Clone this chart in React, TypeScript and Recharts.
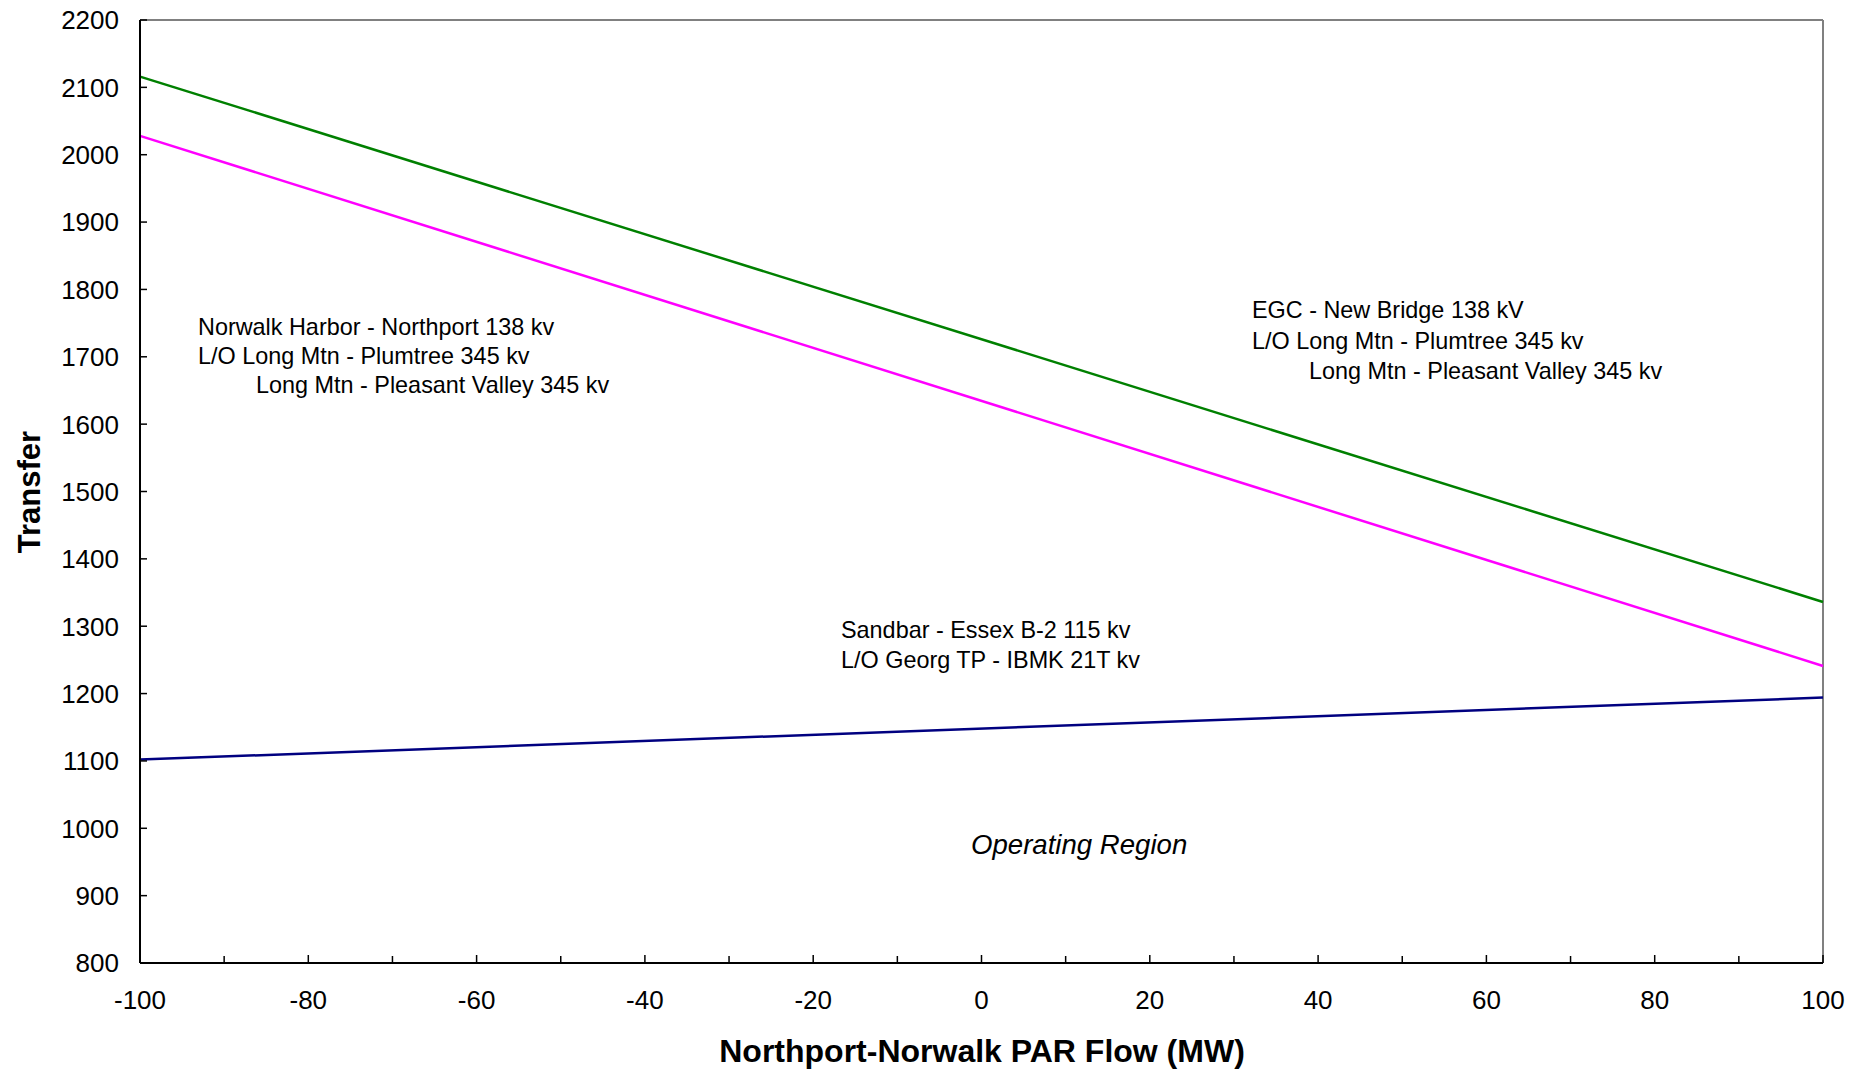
import { LineChart, Line, XAxis, YAxis, ReferenceLine } from 'recharts';

// PAR flow (MW) and the transfer limits read at each end of the range
const flows = [-100, 100];
const egcLimit = [2116, 1336];
const norwalkLimit = [2028, 1241];
const sandbarLimit = [1102, 1194];

const xTicks = [-100, -90, -80, -70, -60, -50, -40, -30, -20, -10, 0, 10, 20, 30, 40, 50, 60, 70, 80, 90, 100];
const yTicks = [800, 900, 1000, 1100, 1200, 1300, 1400, 1500, 1600, 1700, 1800, 1900, 2000, 2100, 2200];

const data = flows.map((f, i) => ({
    flow: f,
    egc: egcLimit[i],
    norwalk: norwalkLimit[i],
    sandbar: sandbarLimit[i],
}));

const FONT = '"Liberation Sans", Arial, sans-serif';
const X_MARGIN = 37;
const Y_MARGIN = 21;

const XTick = (props: any) => {
    const { x, y, payload } = props;
    const v = payload.value;
    const major = v % 20 === 0;
    const axisY = y - X_MARGIN;
    return (
        <g>
            <line x1={x} x2={x} y1={axisY} y2={axisY - (major ? 8 : 7)} stroke="#000" strokeWidth={1.5} />
            {major && (
                <text x={x} y={y} dy="0.36em" textAnchor="middle" fontFamily={FONT} fontSize={26} fill="#000">
                    {v}
                </text>
            )}
        </g>
    );
};

const YTick = (props: any) => {
    const { x, y, payload } = props;
    const axisX = x + Y_MARGIN;
    return (
        <g>
            <line x1={axisX} x2={axisX + 7} y1={y} y2={y} stroke="#000" strokeWidth={1.5} />
            <text x={x} y={y} dy="0.36em" textAnchor="end" fontFamily={FONT} fontSize={26} fill="#000">
                {payload.value}
            </text>
        </g>
    );
};

const noteStyle = { fontFamily: FONT, fontSize: 23.4, fill: '#000' };

export default function App() {
    return (
        <div style={{ position: 'relative', width: 1871, height: 1071, margin: '-8px 0 0 -8px' }}>
            <LineChart width={1871} height={1071} data={data} margin={{ top: 20, right: 48, bottom: 8, left: 0 }}>
                <XAxis
                    dataKey="flow"
                    type="number"
                    domain={[-100, 100]}
                    ticks={xTicks}
                    interval={0}
                    height={100}
                    tickSize={0}
                    tickMargin={X_MARGIN}
                    tickLine={false}
                    tick={<XTick />}
                    axisLine={{ stroke: '#000', strokeWidth: 2 }}
                />
                <YAxis
                    type="number"
                    domain={[800, 2200]}
                    ticks={yTicks}
                    interval={0}
                    width={140}
                    tickSize={0}
                    tickMargin={Y_MARGIN}
                    tickLine={false}
                    tick={<YTick />}
                    axisLine={{ stroke: '#000', strokeWidth: 2 }}
                />
                <ReferenceLine y={2200} stroke="#808080" strokeWidth={2} />
                <ReferenceLine x={100} stroke="#808080" strokeWidth={2} />
                <Line dataKey="egc" stroke="#008000" strokeWidth={2.5} dot={false} isAnimationActive={false} />
                <Line dataKey="norwalk" stroke="#FF00FF" strokeWidth={2.5} dot={false} isAnimationActive={false} />
                <Line dataKey="sandbar" stroke="#000080" strokeWidth={2.5} dot={false} isAnimationActive={false} />
            </LineChart>
            <svg
                width={1871}
                height={1071}
                style={{ position: 'absolute', left: 0, top: 0, pointerEvents: 'none' }}
            >
                <text style={noteStyle} x={198} y={335}>Norwalk Harbor - Northport 138 kv</text>
                <text style={noteStyle} x={198} y={364}>L/O Long Mtn - Plumtree 345 kv</text>
                <text style={noteStyle} x={256} y={393}>Long Mtn - Pleasant Valley 345 kv</text>

                <text style={noteStyle} x={1252} y={318}>EGC - New Bridge 138 kV</text>
                <text style={noteStyle} x={1252} y={349}>L/O Long Mtn - Plumtree 345 kv</text>
                <text style={noteStyle} x={1309} y={379}>Long Mtn - Pleasant Valley 345 kv</text>

                <text style={noteStyle} x={841} y={638}>Sandbar - Essex B-2 115 kv</text>
                <text style={noteStyle} x={841} y={668}>L/O Georg TP - IBMK 21T kv</text>

                <text x={971} y={854} fontFamily={FONT} fontSize={27.6} fontStyle="italic" fill="#000">
                    Operating Region
                </text>

                <text x={982} y={1062} textAnchor="middle" fontFamily={FONT} fontSize={32} fontWeight="bold" fill="#000">
                    Northport-Norwalk PAR Flow (MW)
                </text>
                <text
                    x={29}
                    y={492}
                    transform="rotate(-90 29 492)"
                    textAnchor="middle"
                    dy="0.36em"
                    fontFamily={FONT}
                    fontSize={31}
                    fontWeight="bold"
                    fill="#000"
                >
                    Transfer
                </text>
            </svg>
        </div>
    );
}
